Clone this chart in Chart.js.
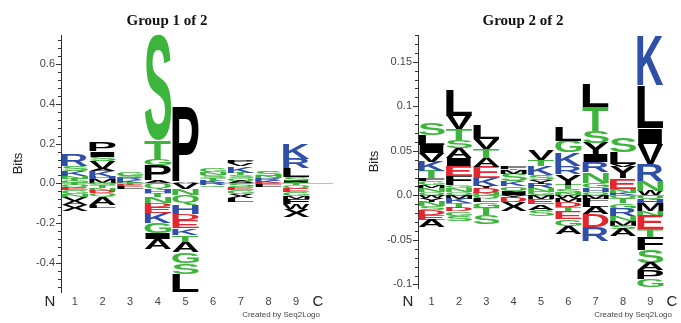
<!DOCTYPE html>
<html>
<head>
<meta charset="utf-8">
<script src="https://cdn.jsdelivr.net/npm/chart.js@4.4.1/dist/chart.umd.min.js"></script>
<style>
  html, body { margin: 0; padding: 0; background: #fff; }
  #wrap { position: relative; width: 681px; height: 323px; }
  canvas { position: absolute; top: 0; }
</style>
</head>
<body>
<div id="wrap">
  <canvas id="group1" width="340" height="323" style="left:0"></canvas>
  <canvas id="group2" width="341" height="323" style="left:340px"></canvas>
</div>
<script>
// positions along the peptide
const positions = ["1", "2", "3", "4", "5", "6", "7", "8", "9"];

// letters stacked from the zero line outward: [residue, bits]
const group1Up = [
  [["G", 0.01], ["T", 0.01], ["N", 0.015], ["K", 0.025], ["S", 0.025], ["R", 0.055]],
  [["M", 0.02], ["H", 0.01], ["K", 0.03], ["A", 0.01], ["V", 0.04], ["S", 0.025], ["I", 0.025], ["P", 0.045]],
  [["K", 0.015], ["R", 0.01], ["S", 0.01], ["G", 0.02]],
  [["A", 0.015], ["P", 0.075], ["G", 0.03], ["T", 0.095], ["S", 0.53]],
  [["A", 0.005], ["P", 0.375]],
  [["K", 0.01], ["T", 0.015], ["S", 0.015], ["N", 0.015], ["G", 0.02]],
  [["A", 0.01], ["Q", 0.015], ["S", 0.015], ["T", 0.01], ["K", 0.035], ["V", 0.015], ["P", 0.015]],
  [["K", 0.01], ["R", 0.015], ["N", 0.01], ["S", 0.025]],
  [["I", 0.01], ["S", 0.02], ["L", 0.045], ["R", 0.05], ["K", 0.075]],
];
const group1Down = [
  [["T", 0.01], ["Q", 0.012], ["E", 0.013], ["G", 0.02], ["N", 0.015], ["V", 0.02], ["A", 0.02], ["X", 0.03]],
  [["G", 0.01], ["T", 0.015], ["N", 0.015], ["D", 0.01], ["Q", 0.02], ["A", 0.04], ["L", 0.015]],
  [["T", 0.01], ["E", 0.01], ["L", 0.01]],
  [["Q", 0.03], ["H", 0.02], ["T", 0.02], ["N", 0.03], ["D", 0.02], ["E", 0.03], ["K", 0.05], ["G", 0.05], ["I", 0.03], ["A", 0.05]],
  [["V", 0.03], ["N", 0.03], ["Q", 0.05], ["H", 0.045], ["D", 0.03], ["E", 0.04], ["K", 0.035], ["T", 0.035], ["A", 0.05], ["G", 0.055], ["S", 0.055], ["L", 0.09]],
  [["R", 0.01], ["Q", 0.01]],
  [["S", 0.02], ["E", 0.015], ["G", 0.02], ["X", 0.02], ["L", 0.02]],
  [["E", 0.01], ["L", 0.01]],
  [["T", 0.01], ["Q", 0.015], ["E", 0.02], ["G", 0.02], ["M", 0.015], ["F", 0.025], ["W", 0.025], ["X", 0.04]],
];

const group2Up = [
  [["Q", 0.004], ["N", 0.004], ["M", 0.003], ["G", 0.005], ["F", 0.003], ["T", 0.008], ["K", 0.011], ["V", 0.01], ["I", 0.009], ["L", 0.011], ["S", 0.013]],
  [["Q", 0.004], ["N", 0.004], ["G", 0.003], ["F", 0.011], ["E", 0.011], ["I", 0.009], ["A", 0.011], ["S", 0.008], ["T", 0.013], ["V", 0.015], ["L", 0.028]],
  [["N", 0.003], ["D", 0.005], ["Y", 0.003], ["K", 0.008], ["E", 0.013], ["A", 0.01], ["T", 0.01], ["V", 0.011], ["L", 0.015]],
  [["I", 0.004], ["Q", 0.006], ["K", 0.006], ["S", 0.008], ["M", 0.004], ["T", 0.002], ["F", 0.003]],
  [["G", 0.004], ["N", 0.004], ["R", 0.005], ["Y", 0.004], ["S", 0.006], ["K", 0.01], ["T", 0.007], ["V", 0.012]],
  [["N", 0.003], ["S", 0.004], ["T", 0.005], ["Y", 0.012], ["R", 0.009], ["K", 0.015], ["G", 0.013], ["L", 0.015]],
  [["Q", 0.004], ["H", 0.004], ["G", 0.006], ["N", 0.012], ["R", 0.011], ["I", 0.008], ["Y", 0.014], ["S", 0.013], ["T", 0.027], ["L", 0.025]],
  [["K", 0.003], ["N", 0.004], ["E", 0.012], ["Y", 0.013], ["V", 0.003], ["L", 0.013], ["S", 0.016]],
  [["W", 0.005], ["N", 0.011], ["R", 0.019], ["V", 0.023], ["I", 0.018], ["L", 0.048], ["K", 0.055]],
];
const group2Down = [
  [["W", 0.003], ["Y", 0.004], ["N", 0.005], ["S", 0.005], ["D", 0.005], ["E", 0.006], ["A", 0.008]],
  [["M", 0.004], ["K", 0.005], ["T", 0.005], ["D", 0.004], ["G", 0.005], ["S", 0.006]],
  [["Q", 0.004], ["L", 0.004], ["G", 0.006], ["T", 0.008], ["S", 0.01]],
  [["Y", 0.003], ["D", 0.005], ["X", 0.01]],
  [["M", 0.004], ["E", 0.006], ["A", 0.006], ["S", 0.007]],
  [["W", 0.003], ["M", 0.004], ["D", 0.006], ["T", 0.006], ["E", 0.008], ["G", 0.007], ["A", 0.009]],
  [["M", 0.004], ["F", 0.004], ["L", 0.005], ["A", 0.008], ["D", 0.014], ["R", 0.016]],
  [["Q", 0.004], ["T", 0.005], ["G", 0.006], ["R", 0.008], ["N", 0.006], ["M", 0.005], ["S", 0.004], ["A", 0.008]],
  [["Q", 0.005], ["H", 0.005], ["M", 0.008], ["N", 0.005], ["E", 0.015], ["T", 0.01], ["F", 0.014], ["S", 0.014], ["A", 0.008], ["P", 0.01], ["G", 0.009]],
];

// y axis ticks
const group1Ticks = [-0.4, -0.2, 0, 0.2, 0.4, 0.6];
const group1TickLabels = ["-0.4", "-0.2", "0.0", "0.2", "0.4", "0.6"];
const group2Ticks = [-0.1, -0.05, 0, 0.05, 0.1, 0.15];
const group2TickLabels = ["-0.1", "-0.05", "0.0", "0.05", "0.1", "0.15"];

const SANS = '"Liberation Sans", Arial, sans-serif';

function residueColor(ch) {
  if ("KRH".includes(ch)) return "#2f4fa8";
  if ("DE".includes(ch)) return "#e3262f";
  if ("STGNQC".includes(ch)) return "#3db53d";
  return "#000000";
}

function buildDatasets(up, down) {
  const sets = [];
  const depthUp = Math.max(...up.map(c => c.length));
  for (let k = 0; k < depthUp; k++) {
    sets.push({
      data: up.map(c => (c[k] ? c[k][1] : null)),
      letters: up.map(c => (c[k] ? c[k][0] : null)),
      backgroundColor: "rgba(0,0,0,0)",
      stack: "logo",
    });
  }
  const depthDown = Math.max(...down.map(c => c.length));
  for (let k = 0; k < depthDown; k++) {
    sets.push({
      data: down.map(c => (c[k] ? -c[k][1] : null)),
      letters: down.map(c => (c[k] ? c[k][0] : null)),
      backgroundColor: "rgba(0,0,0,0)",
      stack: "logo",
    });
  }
  return sets;
}

// stretch a glyph so that it fills the bar rectangle
function drawGlyph(ctx, ch, x, y, w, h, color) {
  ctx.save();
  ctx.font = "bold 100px " + SANS;
  ctx.textAlign = "left";
  ctx.textBaseline = "alphabetic";
  const m = ctx.measureText(ch);
  const gw = m.actualBoundingBoxLeft + m.actualBoundingBoxRight;
  const gh = m.actualBoundingBoxAscent + m.actualBoundingBoxDescent;
  ctx.translate(x, y);
  ctx.scale(w / gw, h / gh);
  ctx.fillStyle = color;
  ctx.fillText(ch, m.actualBoundingBoxLeft, m.actualBoundingBoxAscent);
  ctx.restore();
}

const logoLetters = {
  id: "logoLetters",
  beforeDatasetsDraw(chart, args, opts) {
    const { ctx, chartArea } = chart;
    const y0 = chart.scales.y.getPixelForValue(0);
    ctx.save();
    ctx.lineWidth = 1;
    ctx.strokeStyle = opts.zeroColor;
    ctx.beginPath();
    ctx.moveTo(chartArea.left, y0);
    ctx.lineTo(opts.zeroTo, y0);
    ctx.stroke();
    ctx.restore();
  },
  afterDatasetsDraw(chart) {
    const ctx = chart.ctx;
    chart.data.datasets.forEach((ds, di) => {
      const meta = chart.getDatasetMeta(di);
      meta.data.forEach((bar, i) => {
        const ch = ds.letters[i];
        if (!ch) return;
        const p = bar.getProps(["x", "y", "base", "width"], true);
        if (!isFinite(p.y) || !isFinite(p.base)) return;
        const top = Math.min(p.y, p.base);
        const h = Math.abs(p.base - p.y);
        if (h < 0.3) return;
        drawGlyph(ctx, ch, p.x - p.width / 2, top, p.width, h, residueColor(ch));
      });
    });
  },
};

const logoFrame = {
  id: "logoFrame",
  afterDraw(chart, args, opts) {
    const { ctx, chartArea } = chart;
    const y = chart.scales.y;
    const ax = chartArea.left;
    ctx.save();
    ctx.strokeStyle = "#333";
    ctx.lineWidth = 1;
    // minor ticks
    const lo = Math.ceil(y.min / opts.minor - 1e-6);
    const hi = Math.floor(y.max / opts.minor + 1e-6);
    ctx.beginPath();
    for (let k = lo; k <= hi; k++) {
      const py = Math.round(y.getPixelForValue(k * opts.minor)) + 0.5;
      ctx.moveTo(ax - 3, py);
      ctx.lineTo(ax + 1, py);
    }
    // major ticks
    opts.ticks.forEach(v => {
      const py = Math.round(y.getPixelForValue(v)) + 0.5;
      ctx.moveTo(ax - 5, py);
      ctx.lineTo(ax, py);
    });
    ctx.stroke();

    ctx.fillStyle = "#111";
    ctx.textBaseline = "middle";
    ctx.textAlign = "center";
    ctx.font = "bold 15px " + '"Liberation Serif", "Times New Roman", serif';
    ctx.fillText(opts.title, opts.titleX, opts.titleY);

    ctx.fillStyle = "#222";
    ctx.font = "15px " + SANS;
    ctx.fillText("N", opts.nX, 302);
    ctx.fillText("C", opts.cX, 302);

    ctx.fillStyle = "#444";
    ctx.textAlign = "right";
    ctx.font = "8px " + SANS;
    ctx.fillText("Created by Seq2Logo", opts.creditX, 315);
    ctx.restore();
  },
};

function makeLogo(id, up, down, cfg) {
  new Chart(document.getElementById(id), {
    type: "bar",
    data: { labels: positions, datasets: buildDatasets(up, down) },
    options: {
      responsive: false,
      animation: false,
      events: [],
      layout: { padding: { top: 35, right: cfg.padRight, left: 0, bottom: 0 } },
      datasets: { bar: { categoryPercentage: 1, barPercentage: 0.96 } },
      plugins: {
        legend: { display: false },
        tooltip: { enabled: false },
        logoLetters: { zeroColor: cfg.zeroColor, zeroTo: cfg.zeroTo },
        logoFrame: {
          title: cfg.title, titleX: cfg.titleX, titleY: 21,
          minor: cfg.minor, ticks: cfg.ticks,
          nX: cfg.nX, cX: cfg.cX, creditX: cfg.creditX,
        },
      },
      scales: {
        x: {
          stacked: true,
          offset: true,
          grid: { display: false, drawTicks: false },
          border: { display: false },
          ticks: { color: "#444", font: { size: 11, family: SANS }, padding: cfg.xPad, maxRotation: 0, autoSkip: false },
          afterFit: s => { s.height = cfg.xHeight; },
        },
        y: {
          stacked: true,
          min: cfg.min,
          max: cfg.max,
          afterFit: s => { s.width = cfg.yWidth; },
          afterBuildTicks: s => { s.ticks = cfg.ticks.map(v => ({ value: v })); },
          ticks: {
            color: "#444",
            font: { size: 11, family: SANS },
            padding: 6,
            callback: (v, i) => cfg.tickLabels[i],
          },
          grid: { display: false, drawTicks: false },
          border: { display: true, color: "#333", width: 1 },
          title: {
            display: true, text: "Bits", color: "#222",
            font: { size: 13, family: SANS },
            padding: { top: cfg.bitsPad, bottom: 0 },
          },
        },
      },
    },
    plugins: [logoLetters, logoFrame],
  });
}

makeLogo("group1", group1Up, group1Down, {
  title: "Group 1 of 2", titleX: 167,
  min: -0.545, max: 0.745, ticks: group1Ticks, tickLabels: group1TickLabels, minor: 0.04,
  yWidth: 61, padRight: 30, xHeight: 31, xPad: 3, bitsPad: 11,
  zeroColor: "#f4a3a3", zeroTo: 333,
  nX: 50, cX: 318, creditX: 320,
});

makeLogo("group2", group2Up, group2Down, {
  title: "Group 2 of 2", titleX: 183,
  min: -0.104, max: 0.18, ticks: group2Ticks, tickLabels: group2TickLabels, minor: 0.01,
  yWidth: 78, padRight: 17, xHeight: 35, xPad: 7, bitsPad: 27,
  zeroColor: "#9aa0aa", zeroTo: 324,
  nX: 68, cX: 332, creditX: 332,
});
</script>
</body>
</html>
